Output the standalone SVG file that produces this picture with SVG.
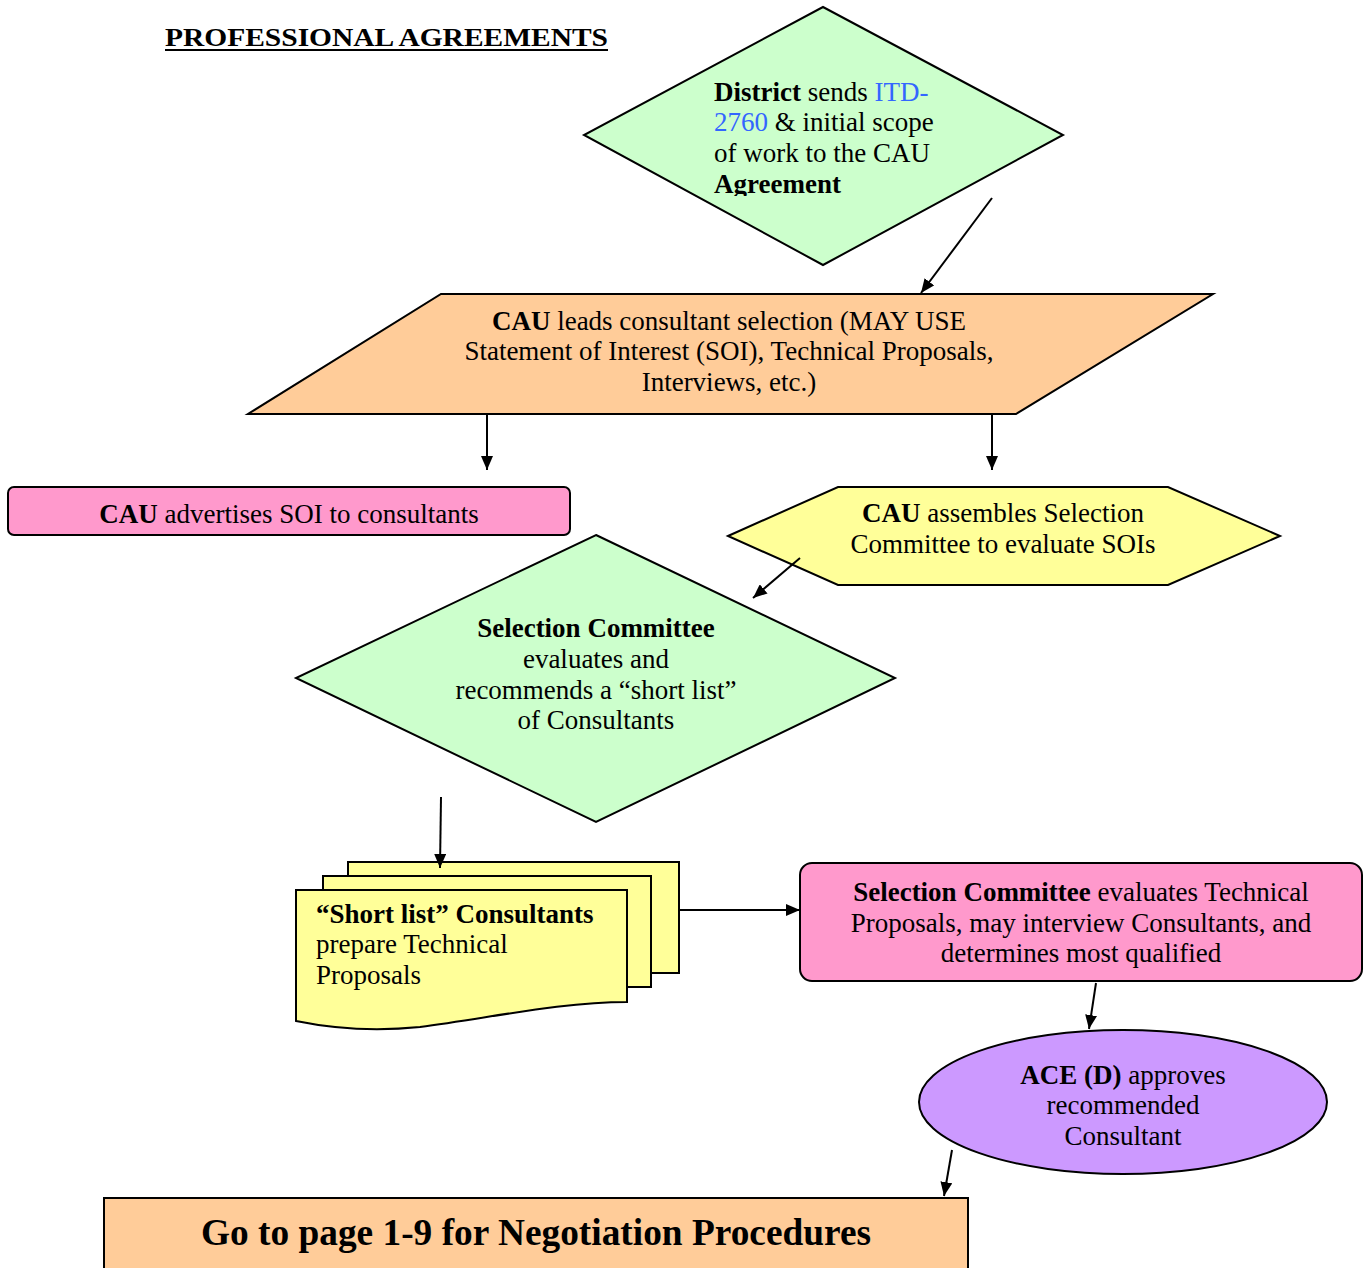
<svg xmlns="http://www.w3.org/2000/svg" width="1366" height="1268" viewBox="0 0 1366 1268" font-family="'Liberation Serif', 'Times New Roman', serif">
<style>
text{font-family:"Liberation Serif","Times New Roman",serif;font-size:27px;fill:#000}
.b{font-weight:bold}
.c{text-anchor:middle}
.shape{stroke:#000;stroke-width:2}
.green{fill:#ccffcc}
.orange{fill:#ffcc99}
.pink{fill:#ff99cc}
.yellow{fill:#ffff99}
.purple{fill:#cc99ff}
.conn{stroke:#000;stroke-width:2;fill:none;marker-end:url(#ah)}
</style>
<defs>
<marker id="ah" markerUnits="userSpaceOnUse" markerWidth="14" markerHeight="12" refX="14" refY="6" orient="auto">
<path d="M0,0 L14,6 L0,12 Z" fill="#000"/>
</marker>
<clipPath id="clipD"><rect x="600" y="60" width="400" height="136"/></clipPath>
</defs>
<rect width="1366" height="1268" fill="#fff"/>
<g id="title">
<text x="165" y="46" class="b" textLength="443" lengthAdjust="spacingAndGlyphs" style="font-size:26px">PROFESSIONAL AGREEMENTS</text>
<line x1="165" y1="50" x2="608" y2="50" stroke="#000" stroke-width="2"/>
</g>
<g id="n1">
<polygon class="shape green" points="823,7 1063,135 823,265 584,135"/>
<g clip-path="url(#clipD)">
<text x="714" y="101"><tspan class="b">District</tspan> sends <tspan fill="#3366ff">ITD-</tspan></text>
<text x="714" y="131"><tspan fill="#3366ff">2760</tspan> &amp; initial scope</text>
<text x="714" y="162">of work to the CAU</text>
<text x="714" y="193" class="b">Agreement</text>
</g>
</g>
<g id="n2">
<polygon class="shape orange" points="441,294 1213,294 1016,414 248,414"/>
<text x="729" y="330" class="c"><tspan class="b">CAU</tspan> leads consultant selection (MAY USE</text>
<text x="729" y="360" class="c">Statement of Interest (SOI), Technical Proposals,</text>
<text x="729" y="391" class="c">Interviews, etc.)</text>
</g>
<g id="n3">
<rect class="shape pink" x="8" y="487" width="562" height="48" rx="6"/>
<text x="289" y="523" class="c"><tspan class="b">CAU</tspan> advertises SOI to consultants</text>
</g>
<g id="n4">
<polygon class="shape yellow" points="728,536 838,487 1168,487 1280,536 1168,585 838,585"/>
<text x="1003" y="522" class="c"><tspan class="b">CAU</tspan> assembles Selection</text>
<text x="1003" y="553" class="c">Committee to evaluate SOIs</text>
</g>
<g id="n5">
<polygon class="shape green" points="596,535 895,678 596,822 296,678"/>
<text x="596" y="637" class="c b">Selection Committee</text>
<text x="596" y="668" class="c">evaluates and</text>
<text x="596" y="699" class="c">recommends a “short list”</text>
<text x="596" y="729" class="c">of Consultants</text>
</g>
<g id="n6">
<rect class="shape yellow" x="348" y="862" width="331" height="111"/>
<rect class="shape yellow" x="323" y="876" width="328" height="111"/>
<path class="shape yellow" d="M296,890 H627 V1002 C560,1002 490,1018 420,1027 C370,1032 330,1028 296,1021 Z"/>
<text x="316" y="923" class="b">“Short list” Consultants</text>
<text x="316" y="953">prepare Technical</text>
<text x="316" y="984">Proposals</text>
</g>
<g id="n7">
<rect class="shape pink" x="800" y="863" width="562" height="118" rx="12"/>
<text x="1081" y="901" class="c"><tspan class="b">Selection Committee</tspan> evaluates Technical</text>
<text x="1081" y="932" class="c">Proposals, may interview Consultants, and</text>
<text x="1081" y="962" class="c">determines most qualified</text>
</g>
<g id="n8">
<ellipse class="shape purple" cx="1123" cy="1102" rx="204" ry="72"/>
<text x="1123" y="1084" class="c"><tspan class="b">ACE (D)</tspan> approves</text>
<text x="1123" y="1114" class="c">recommended</text>
<text x="1123" y="1145" class="c">Consultant</text>
</g>
<g id="n9">
<rect class="shape orange" x="104" y="1198" width="864" height="80"/>
<text x="536" y="1245" class="c b" textLength="670" lengthAdjust="spacingAndGlyphs" style="font-size:38px">Go to page 1-9 for Negotiation Procedures</text>
</g>
<g id="connectors">
<line class="conn" x1="992" y1="198" x2="921" y2="293"/>
<line class="conn" x1="487" y1="414" x2="487" y2="470"/>
<line class="conn" x1="992" y1="414" x2="992" y2="470"/>
<line class="conn" x1="800" y1="558" x2="753" y2="598"/>
<line class="conn" x1="441" y1="797" x2="440" y2="868"/>
<line class="conn" x1="680" y1="910" x2="800" y2="910"/>
<line class="conn" x1="1096" y1="983" x2="1089" y2="1029"/>
<line class="conn" x1="952" y1="1150" x2="944" y2="1196"/>
</g>
</svg>
